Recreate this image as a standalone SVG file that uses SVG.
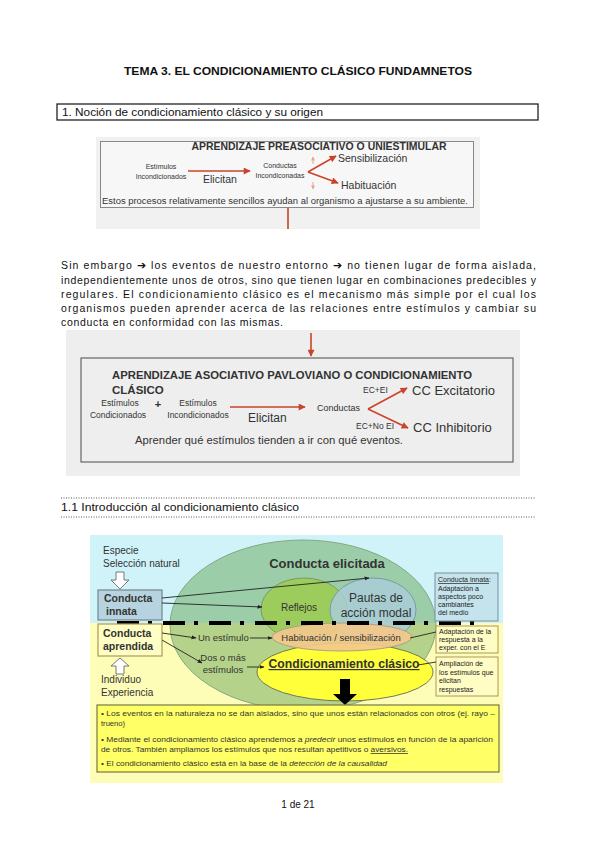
<svg xmlns="http://www.w3.org/2000/svg" width="596" height="848" viewBox="0 0 596 848">
<defs>
<style>
.doc{font-family:"Liberation Sans",Arial,sans-serif;fill:#111}
.ar{font-family:"Liberation Sans",Arial,sans-serif;fill:#333}
.b{font-weight:bold}
.rl{stroke:#c8442a;stroke-width:1.6;fill:none}
.kl{stroke:#222;stroke-width:0.9;fill:none}
.sm{font-size:7px;fill:#222}
.bt{font-size:7.6px;fill:#333}
.hol{fill:#fff;stroke:#777;stroke-width:1}
</style>
<marker id="ra" viewBox="0 0 10 10" refX="9" refY="5" markerWidth="8" markerHeight="7" markerUnits="userSpaceOnUse" orient="auto"><path d="M0,0 L10,5 L0,10 z" fill="#c8442a"/></marker>
<marker id="pa" viewBox="0 0 10 10" refX="9" refY="5" markerWidth="4" markerHeight="4" markerUnits="userSpaceOnUse" orient="auto"><path d="M0,0 L10,5 L0,10 z" fill="#f0a090"/></marker>
<marker id="ka" viewBox="0 0 10 10" refX="9" refY="5" markerWidth="5" markerHeight="5" markerUnits="userSpaceOnUse" orient="auto"><path d="M0,1 L10,5 L0,9 z" fill="#222"/></marker>
</defs>
<rect width="596" height="848" fill="#fff"/>

<g id="title">
<text class="doc b" x="298" y="75" font-size="11" text-anchor="middle" textLength="348" lengthAdjust="spacingAndGlyphs">TEMA 3. EL CONDICIONAMIENTO CLÁSICO FUNDAMNETOS</text>
</g>

<g id="section1">
<rect x="57" y="104" width="481" height="16" fill="none" stroke="#222" stroke-width="1.3"/>
<text class="doc" x="62" y="116" font-size="10" textLength="261" lengthAdjust="spacingAndGlyphs">1. Noción de condicionamiento clásico y su origen</text>
</g>

<g id="diagram1">
<rect x="96" y="137" width="384" height="92" fill="#f1f1f1"/>
<rect x="100.5" y="141.5" width="373" height="66" fill="#f7f7f7" stroke="#888" stroke-width="1"/>
<text class="ar b" x="319" y="150" font-size="10.5" fill="#222" text-anchor="middle" textLength="255" lengthAdjust="spacingAndGlyphs">APRENDIZAJE  PREASOCIATIVO O UNIESTIMULAR</text>
<g id="n1-estimulos"><text class="ar" x="161" y="169" font-size="7" fill="#444" text-anchor="middle">Estímulos</text><text class="ar" x="161" y="179" font-size="7" fill="#444" text-anchor="middle">Incondicionados</text></g>
<text class="ar" x="203" y="183" font-size="10.5">Elicitan</text>
<g id="n1-conductas"><text class="ar" x="280" y="168" font-size="7" fill="#444" text-anchor="middle">Conductas</text><text class="ar" x="280" y="178" font-size="7" fill="#444" text-anchor="middle">Incondiconadas</text></g>
<g id="n1-sens"><text class="ar" x="338" y="162" font-size="10.5">Sensibilización</text></g>
<g id="n1-hab"><text class="ar" x="341" y="189" font-size="10.5">Habituación</text></g>
<text class="ar" x="102" y="204" font-size="8.5" textLength="366" lengthAdjust="spacingAndGlyphs">Estos procesos relativamente sencillos ayudan al organismo a ajustarse a su ambiente.</text>
</g>

<g id="paragraph" class="doc" font-size="10.5">
<text x="61" y="269" textLength="475" lengthAdjust="spacing">Sin embargo ➔ los eventos de nuestro entorno ➔ no tienen lugar de forma aislada,</text>
<text x="61" y="283.5" textLength="475" lengthAdjust="spacing">independientemente unos de otros, sino que tienen lugar en combinaciones predecibles y</text>
<text x="61" y="297.5" textLength="475" lengthAdjust="spacing">regulares. El condicionamiento clásico es el mecanismo más simple por el cual los</text>
<text x="61" y="311.5" textLength="475" lengthAdjust="spacing">organismos pueden aprender acerca de las relaciones entre estímulos y cambiar su</text>
<text x="61" y="325.5" textLength="222" lengthAdjust="spacing">conducta en conformidad con las mismas.</text>
</g>

<g id="diagram2">
<rect x="66" y="330" width="454" height="146" fill="#eeeeee"/>
<rect x="81" y="358" width="432" height="104" fill="none" stroke="#666" stroke-width="1.2"/>
<text class="ar b" x="112" y="379" font-size="11.5" fill="#222" textLength="360" lengthAdjust="spacingAndGlyphs">APRENDIZAJE ASOCIATIVO PAVLOVIANO O CONDICIONAMIENTO</text>
<text class="ar b" x="112" y="394" font-size="11.5" fill="#222">CLÁSICO</text>
<g id="n2-ec"><text class="ar" x="120" y="406" font-size="8.5" fill="#444" text-anchor="middle">Estímulos</text><text class="ar" x="118" y="418" font-size="8.5" fill="#444" text-anchor="middle">Condicionados</text></g>
<text class="ar b" x="158" y="408" font-size="11" text-anchor="middle">+</text>
<g id="n2-ei"><text class="ar" x="198" y="406" font-size="8.5" fill="#444" text-anchor="middle">Estímulos</text><text class="ar" x="198" y="418" font-size="8.5" fill="#444" text-anchor="middle">Incondicionados</text></g>
<text class="ar" x="248" y="422" font-size="12">Elicitan</text>
<g id="n2-conductas"><text class="ar" x="317" y="411" font-size="9" fill="#444">Conductas</text></g>
<text class="ar" x="363" y="393" font-size="8.5" fill="#444">EC+EI</text>
<text class="ar" x="356" y="429" font-size="8.5" fill="#444">EC+No EI</text>
<g id="n2-exc"><text class="ar" x="412" y="395" font-size="13">CC Excitatorio</text></g>
<g id="n2-inh"><text class="ar" x="413" y="432" font-size="13">CC Inhibitorio</text></g>
<text class="ar" x="135" y="444" font-size="11" textLength="268" lengthAdjust="spacingAndGlyphs">Aprender qué estímulos tienden a ir con qué eventos.</text>
</g>

<g id="section11">
<line x1="61" y1="498" x2="536" y2="498" stroke="#555" stroke-width="1" stroke-dasharray="1 1.5"/>
<line x1="61" y1="517" x2="536" y2="517" stroke="#555" stroke-width="1" stroke-dasharray="1 1.5"/>
<text class="doc" x="61" y="511" font-size="10" textLength="238" lengthAdjust="spacingAndGlyphs">1.1 Introducción al condicionamiento clásico</text>
</g>

<g id="diagram3">
<rect x="90" y="535" width="413" height="88" fill="#cff3f8"/>
<rect x="90" y="623" width="413" height="160" fill="#fefdb8"/>
<g id="n3-elicitada">
<ellipse cx="303" cy="625" rx="133" ry="85" fill="#6aa85a" fill-opacity="0.5" stroke="#84a884" stroke-width="1"/>
<text class="ar b" x="327" y="568" font-size="13" fill="#111" text-anchor="middle">Conducta elicitada</text>
</g>
<g id="n3-reflejos">
<ellipse cx="304" cy="609" rx="43" ry="31" fill="#9ccc5c" stroke="#7a9a6a" stroke-width="1"/>
<text class="ar" x="299" y="611" font-size="10" text-anchor="middle">Reflejos</text>
</g>
<g id="n3-pautas">
<ellipse cx="373" cy="610" rx="43" ry="32" fill="#a9cdd8" fill-opacity="0.85" stroke="#7a9aa8" stroke-width="1"/>
<text class="ar" x="376" y="602" font-size="12" text-anchor="middle">Pautas de</text>
<text class="ar" x="376" y="617" font-size="12" text-anchor="middle">acción modal</text>
</g>
<g id="n3-cc">
<ellipse cx="345" cy="672" rx="88" ry="29" fill="#ffff3a" stroke="#6f7a5a" stroke-width="1"/>
<text class="ar b" x="344" y="668" font-size="12" fill="#2e8b2e" text-anchor="middle" text-decoration="underline" textLength="151" lengthAdjust="spacingAndGlyphs">Condicionamiento clásico</text>
</g>
<g id="n3-hab">
<ellipse cx="342" cy="637" rx="70" ry="14" fill="#f2c88c" fill-opacity="0.92" stroke="#b0a080" stroke-width="1"/>
<text class="ar" x="341" y="641" font-size="9.5" text-anchor="middle">Habituación / sensibilización</text>
</g>
<line x1="117" y1="623" x2="478" y2="623" stroke="#000" stroke-width="4" stroke-dasharray="22 9 4 11"/>
<polygon points="340,679 350,679 350,694 357,694 345,705 333,694 340,694" fill="#000"/>
<g id="n3-especie">
<text class="ar" x="103" y="554" font-size="10" fill="#666">Especie</text>
<text class="ar" x="103" y="567" font-size="10" fill="#666">Selección natural</text>
<polygon class="hol" points="116,572 124,572 124,580 129,580 120,589 111,580 116,580"/>
</g>
<g id="n3-innata">
<rect x="98" y="590" width="64" height="30" fill="#b7d3df" stroke="#6f8690" stroke-width="1.2"/>
<text class="ar b" x="104" y="602" font-size="10.5" fill="#111">Conducta</text>
<text class="ar b" x="106" y="615" font-size="10.5" fill="#111">innata</text>
</g>
<g id="n3-aprendida">
<rect x="98" y="624" width="64" height="32" fill="#fffec4" stroke="#a89a5a" stroke-width="1.2"/>
<text class="ar b" x="103" y="637" font-size="10.5" fill="#111">Conducta</text>
<text class="ar b" x="103" y="650" font-size="10.5" fill="#111">aprendida</text>
</g>
<g id="n3-individuo">
<polygon class="hol" points="120,658 129,666 124,666 124,674 116,674 116,666 111,666"/>
<text class="ar" x="101" y="683" font-size="10" fill="#555">Individuo</text>
<text class="ar" x="101" y="696" font-size="10" fill="#555">Experiencia</text>
</g>
<g id="n3-unestimulo"><text class="ar" x="198" y="641" font-size="9.5">Un estímulo</text></g>
<g id="n3-dos"><text class="ar" x="223" y="661" font-size="9.5" text-anchor="middle">Dos o más</text><text class="ar" x="223" y="673" font-size="9.5" text-anchor="middle">estímulos</text></g>
<g id="n3-box-innata">
<rect x="435" y="573" width="63" height="48" fill="#c5e3ec" stroke="#7890a0" stroke-width="1"/>
<text class="ar sm" x="438" y="582"><tspan text-decoration="underline">Conducta innata</tspan>:</text>
<text class="ar sm" x="438" y="591">Adaptación a</text>
<text class="ar sm" x="438" y="599">aspectos poco</text>
<text class="ar sm" x="438" y="607">cambiantes</text>
<text class="ar sm" x="438" y="615">del medio</text>
</g>
<g id="n3-box-adapt">
<rect x="436" y="626" width="62" height="27" fill="#fffcc4" stroke="#a89a5a" stroke-width="1"/>
<text class="ar sm" x="439" y="634">Adaptación de la</text>
<text class="ar sm" x="439" y="642">respuesta a la</text>
<text class="ar sm" x="439" y="650">exper. con el E</text>
</g>
<g id="n3-box-ampl">
<rect x="436" y="657" width="62" height="39" fill="#fffcc4" stroke="#a89a5a" stroke-width="1"/>
<text class="ar sm" x="439" y="666">Ampliación de</text>
<text class="ar sm" x="439" y="675">los estímulos que</text>
<text class="ar sm" x="439" y="683">elicitan</text>
<text class="ar sm" x="439" y="692">respuestas</text>
</g>
<g id="n3-bottom">
<rect x="97" y="705" width="402" height="67" fill="#ffff66" stroke="#777744" stroke-width="1.2"/>
<text class="ar bt" x="101" y="716" textLength="394" lengthAdjust="spacingAndGlyphs">• Los eventos en la naturaleza  no se dan aislados, sino que unos están relacionados con otros (ej. rayo –</text>
<text class="ar bt" x="101" y="726">trueno)</text>
<text class="ar bt" x="101" y="742" textLength="392" lengthAdjust="spacingAndGlyphs">• Mediante el condicionamiento clásico aprendemos a <tspan font-style="italic">predecir</tspan> unos estímulos en función de la aparición</text>
<text class="ar bt" x="101" y="752" textLength="307" lengthAdjust="spacingAndGlyphs">de otros. También ampliamos los estímulos que nos resultan apetitivos o <tspan text-decoration="underline">aversivos.</tspan></text>
<text class="ar bt" x="101" y="766" textLength="286" lengthAdjust="spacingAndGlyphs">• El condicionamiento clásico está en la base de la <tspan font-style="italic">detección de la causalidad</tspan></text>
</g>
</g>

<g id="connectors">
<line class="rl" x1="188" y1="171" x2="250" y2="171" marker-end="url(#ra)"/>
<line class="rl" x1="308" y1="172" x2="336" y2="156" marker-end="url(#ra)"/>
<line class="rl" x1="308" y1="172" x2="338" y2="183" marker-end="url(#ra)"/>
<line x1="313" y1="164" x2="313" y2="157" stroke="#f0a090" stroke-width="1" marker-end="url(#pa)"/>
<line x1="313" y1="182" x2="313" y2="189" stroke="#f0a090" stroke-width="1" marker-end="url(#pa)"/>
<line class="rl" x1="288" y1="208" x2="288" y2="229"/>
<line class="rl" x1="311" y1="333" x2="311" y2="356" marker-end="url(#ra)"/>
<line class="rl" x1="230" y1="407" x2="305" y2="407" marker-end="url(#ra)"/>
<line class="rl" x1="368" y1="409" x2="407" y2="388" marker-end="url(#ra)"/>
<line class="rl" x1="368" y1="409" x2="408" y2="428" marker-end="url(#ra)"/>
<line class="kl" x1="162" y1="598" x2="369" y2="578" marker-end="url(#ka)"/>
<line class="kl" x1="162" y1="603" x2="262" y2="607" marker-end="url(#ka)"/>
<line class="kl" x1="162" y1="633" x2="196" y2="638" marker-end="url(#ka)"/>
<line class="kl" x1="162" y1="640" x2="202" y2="663" marker-end="url(#ka)"/>
<line class="kl" x1="250" y1="638" x2="272" y2="638" marker-end="url(#ka)"/>
<line class="kl" x1="247" y1="667" x2="264" y2="667" marker-end="url(#ka)"/>
<line class="kl" x1="410" y1="638" x2="436" y2="632"/>
<line class="kl" x1="418" y1="665" x2="436" y2="662"/>
</g>

<g id="footer">
<text class="doc" x="298" y="808" font-size="10" text-anchor="middle">1 de 21</text>
</g>
</svg>
